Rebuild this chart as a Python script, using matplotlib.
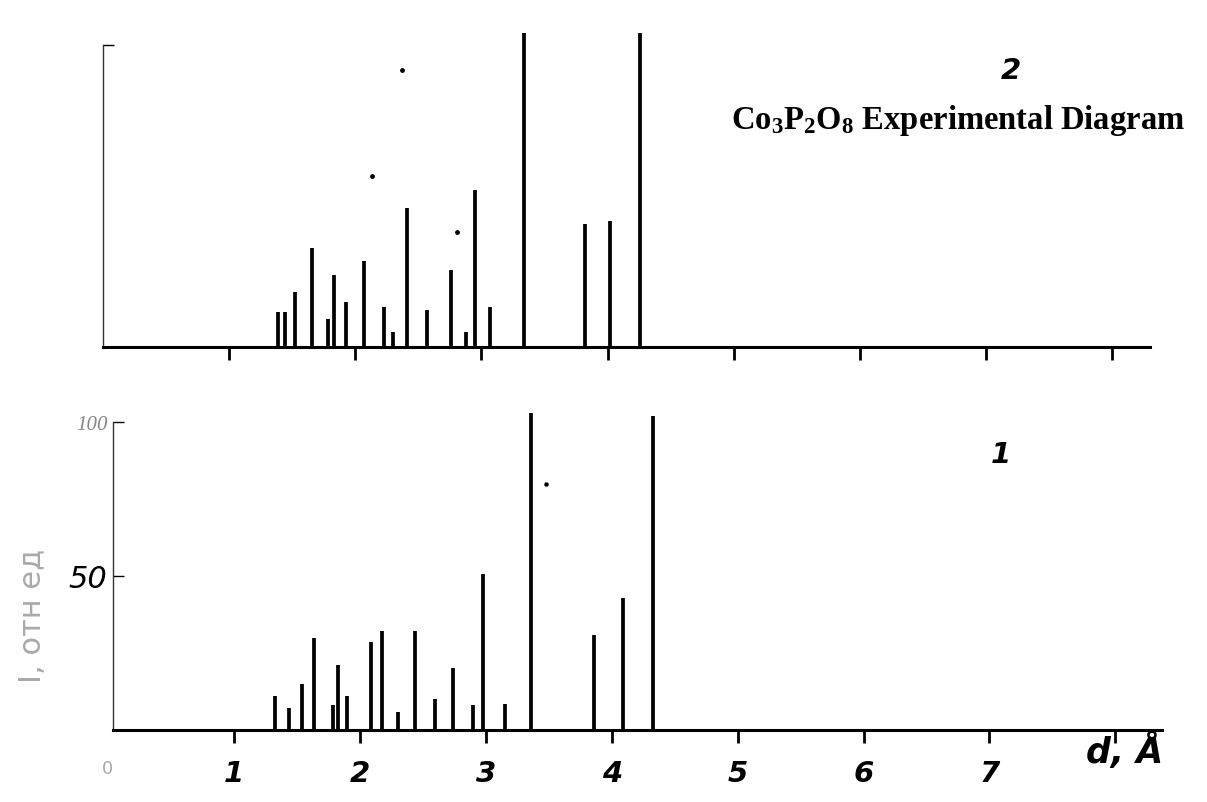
import numpy as np
import matplotlib.pyplot as plt

plt.rcParams['mathtext.fontset'] = 'custom'
plt.rcParams['mathtext.rm'] = 'Liberation Serif:bold'
plt.rcParams['mathtext.it'] = 'Liberation Serif:bold'

# Pattern 1 (lower panel): d-spacing, A and relative intensity
d1 = [1.33, 1.44, 1.54, 1.635, 1.79, 1.83, 1.90, 2.09, 2.18, 2.30, 2.44, 2.60,
      2.74, 2.90, 2.98, 3.15, 3.36, 3.86, 4.09, 4.33]
i1 = [11, 7, 15, 30, 8, 21, 11, 28.5, 32, 6, 32, 10,
      20, 8, 50.5, 8.5, 103, 31, 43, 102]

# Pattern 2 (upper panel): experimental diagram
d2 = [1.39, 1.44, 1.52, 1.66, 1.78, 1.83, 1.93, 2.07, 2.23, 2.30, 2.41, 2.57,
      2.76, 2.88, 2.95, 3.07, 3.34, 3.82, 4.02, 4.26]
i2 = [11.4, 11.4, 18, 32, 9, 23.5, 14.5, 28, 13, 5, 45, 12,
      25, 5, 51, 13, 102, 40, 41, 102]

# specks of dirt on the scan
specks2_d = [2.37, 2.135, 2.81]
specks2_i = [90, 55.5, 37.3]
specks1_d = [3.48]
specks1_i = [80]

xticks = [1, 2, 3, 4, 5, 6, 7, 8]
xlabels = ['1', '2', '3', '4', '5', '6', '7', '']

fig = plt.figure(figsize=(12.07, 8.03), dpi=100)
W, H = 1207, 803

def make_axes(left_px, right_px, base_px, x0, x1, ytop):
    # axes placed in pixel terms, 3.08 px per intensity unit
    top_px = base_px - ytop * 3.08
    ax = fig.add_axes([left_px / W, (H - base_px) / H,
                       (right_px - left_px) / W, (base_px - top_px) / H])
    ax.set_xlim(x0, x1)
    ax.set_ylim(0, ytop)
    ax.spines['top'].set_visible(False)
    ax.spines['right'].set_visible(False)
    ax.spines['bottom'].set_linewidth(2.2)
    ax.spines['left'].set_linewidth(1.0)
    ax.spines['left'].set_color('#333333')
    ax.set_xticks(xticks)
    ax.tick_params(axis='x', direction='out', length=9, width=2, pad=12)
    return ax

# upper panel (2)
ax2 = make_axes(103, 1150, 348, 0.0, 8.3, 104)
ax2.vlines(d2, 0, i2, colors='black', linewidth=2.7)
ax2.scatter(specks2_d, specks2_i, s=6, color='black')
ax2.spines['left'].set_bounds(0, 98)
ax2.set_yticks([98])
ax2.set_yticklabels([''])
ax2.tick_params(axis='y', direction='in', length=8, width=1)
ax2.set_xticklabels([])
ax2.text(7.2, 90, '2', fontsize=21, fontweight='bold', fontstyle='italic',
         ha='center', va='center')
ax2.text(6.78, 74, r'Co$_3$P$_2$O$_8$ Experimental Diagram', fontsize=23.5,
         fontfamily='Liberation Serif', fontweight='bold', ha='center', va='center')

# lower panel (1)
ax1 = make_axes(113, 1162, 731, 0.04, 8.37, 104)
ax1.vlines(d1, 0, i1, colors='black', linewidth=2.7)
ax1.scatter(specks1_d, specks1_i, s=5, color='black')
ax1.spines['left'].set_bounds(0, 100)
ax1.set_yticks([50, 100])
ax1.set_yticklabels(['50', '100'])
ax1.tick_params(axis='y', direction='in', length=8, width=1, pad=4)
ylabs = ax1.get_yticklabels()
ylabs[0].set_fontsize(22)
ylabs[0].set_fontstyle('italic')
ylabs[1].set_fontsize(15)
ylabs[1].set_fontstyle('italic')
ylabs[1].set_fontfamily('Liberation Serif')
ylabs[1].set_color('#888888')
ax1.set_xticklabels(xlabels, fontsize=21, fontweight='bold', fontstyle='italic')
ax1.text(0.0, -12.5, '0', fontsize=13, color='#aaaaaa', ha='center', va='center')
ax1.text(8.07, -6.5, 'd, Å', fontsize=25, fontweight='bold', fontstyle='italic',
         ha='center', va='center')
ax1.text(7.09, 89.5, '1', fontsize=21, fontweight='bold', fontstyle='italic',
         ha='center', va='center')
ax1.set_ylabel('I, отн ед', fontsize=22, color='#aaaaaa', labelpad=8)
ax1.yaxis.set_label_coords(-0.063, 0.36)

fig.savefig('out.png', dpi=100)
